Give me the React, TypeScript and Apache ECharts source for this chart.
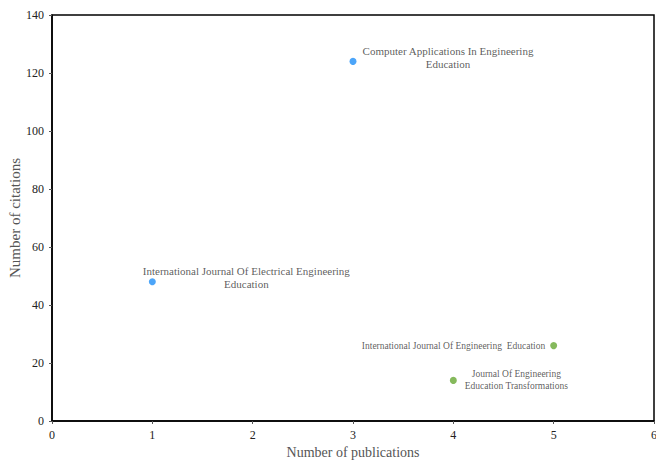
import React, { useEffect, useRef } from "react";
import * as echarts from "echarts";

const journals = [
  "Computer Applications In Engineering\nEducation",
  "International Journal Of Electrical Engineering\nEducation",
  "International Journal Of Engineering  Education",
  "Journal Of Engineering\nEducation Transformations",
];
const publications = [3, 1, 5, 4];
const citations = [124, 48, 26, 14];
const groups = ["blue", "blue", "green", "green"];
const xTicks = [0, 1, 2, 3, 4, 5, 6];
const yTicks = [0, 20, 40, 60, 80, 100, 120, 140];

const COLORS: Record<string, string> = { blue: "#1f8ff7", green: "#66a833" };
const labelCfg = [
  { position: "inside", offset: [95, -4], align: "center", fontSize: 11, lineHeight: 13 },
  { position: "inside", offset: [94, -4], align: "center", fontSize: 11, lineHeight: 13 },
  { position: "left", distance: 5, align: "right", fontSize: 9.5, lineHeight: 12 },
  { position: "inside", offset: [63, 0], align: "center", fontSize: 9.5, lineHeight: 12 },
];

const FONT = "Liberation Serif";

export default function App() {
  const ref = useRef<HTMLDivElement>(null);
  useEffect(() => {
    const chart = echarts.init(ref.current!, null, { renderer: "svg" });
    const data = journals.map((name, i) => ({
      name,
      value: [publications[i], citations[i]],
      itemStyle: { color: COLORS[groups[i]] },
      label: {
        show: true,
        formatter: name,
        color: "#333",
        fontFamily: FONT,
        ...labelCfg[i],
      },
    }));
    chart.setOption({
      animation: false,
      textStyle: { fontFamily: FONT },
      grid: {
        left: 52,
        top: 15,
        right: 2,
        bottom: 43,
        containLabel: false,
        outerBoundsMode: "none",
        show: true,
        borderColor: "#000",
        borderWidth: 1.5,
        backgroundColor: "transparent",
      },
      xAxis: {
        type: "value",
        min: xTicks[0],
        max: xTicks[xTicks.length - 1],
        interval: 1,
        name: "Number of publications",
        nameLocation: "middle",
        nameGap: 24,
        nameMoveOverlap: false,
        nameTextStyle: { fontFamily: FONT, fontSize: 14, color: "#555" },
        axisLine: { show: true, lineStyle: { color: "#000", width: 1.5 } },
        axisTick: { show: true, length: 3, lineStyle: { color: "#555" } },
        axisLabel: { fontFamily: FONT, fontSize: 12, color: "#222", margin: 8 },
        splitLine: { show: false },
      },
      yAxis: {
        type: "value",
        min: yTicks[0],
        max: yTicks[yTicks.length - 1],
        interval: 20,
        name: "Number of citations",
        nameLocation: "middle",
        nameGap: 30,
        nameMoveOverlap: false,
        nameTextStyle: { fontFamily: FONT, fontSize: 15, color: "#555" },
        axisLine: { show: true, lineStyle: { color: "#000", width: 1.5 } },
        axisTick: { show: true, length: 3, lineStyle: { color: "#555" } },
        axisLabel: { fontFamily: FONT, fontSize: 12, color: "#222", margin: 8 },
        splitLine: { show: false },
      },
      series: [
        {
          type: "scatter",
          symbolSize: 7,
          data,
        },
      ],
    });
    return () => chart.dispose();
  }, []);
  return (
    <div
      ref={ref}
      style={{ position: "fixed", left: 0, top: 0, width: 656, height: 464, background: "#fff" }}
    />
  );
}
